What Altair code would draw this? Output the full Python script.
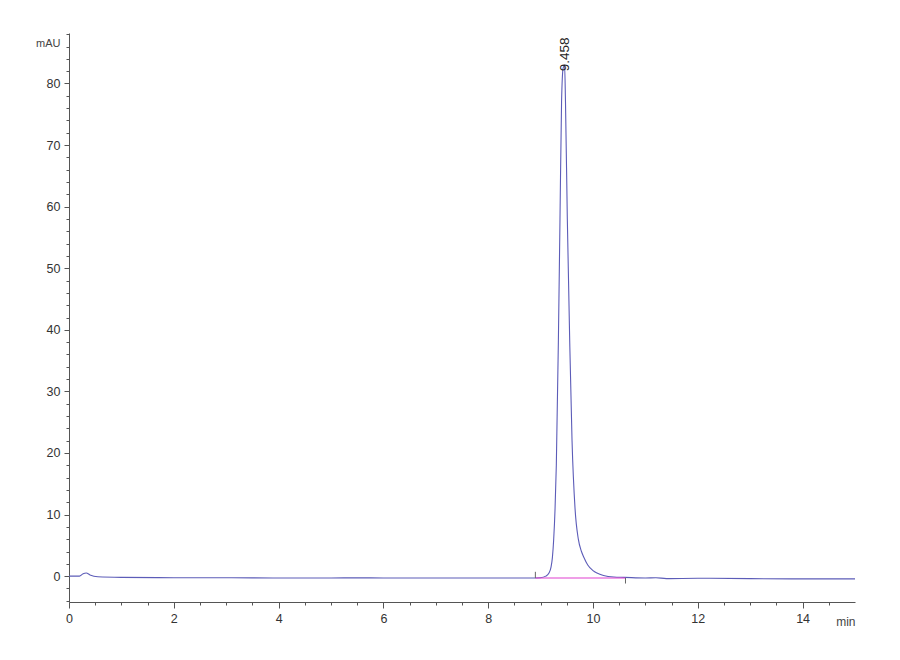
import altair as alt
import pandas as pd

# Chromatogram trace (time in min, absorbance in mAU)
times = [0.0, 0.2, 0.27, 0.33, 0.4, 0.55, 1.0, 2.0, 3.0, 4.0, 5.0, 5.5, 6.0, 7.0, 8.0,
         8.8, 9.0, 9.1, 9.16, 9.2, 9.225, 9.25, 9.276, 9.3, 9.339, 9.37, 9.40, 9.43,
         9.458, 9.475, 9.51, 9.556, 9.60, 9.657, 9.72, 9.78, 9.829, 9.9, 10.0, 10.076,
         10.2, 10.4, 10.6, 11.0, 11.2, 11.4, 12.0, 13.0, 14.0, 15.0]
mau = [0.0, 0.0, 0.4, 0.5, 0.2, -0.1, -0.2, -0.25, -0.25, -0.3, -0.3, -0.28, -0.3, -0.3, -0.3,
       -0.3, -0.25, 0.0, 0.5, 1.5, 3.0, 6.0, 11.0, 18.0, 38.0, 58.0, 77.0, 82.5,
       83.0, 77.0, 58.0, 38.0, 22.0, 11.0, 6.0, 4.0, 3.0, 1.8, 0.9, 0.5,
       0.1, -0.15, -0.2, -0.3, -0.25, -0.4, -0.35, -0.4, -0.45, -0.45]

# Integration baseline
base_times = [8.9, 10.62]
base_mau = [-0.3, -0.3]

# Integration start/end marks
mark_times = [8.9, 10.62]
mark_lo = [-0.3, -1.2]
mark_hi = [0.7, -0.3]

# Peak label
peak_time = [9.458]
peak_mau = [82.0]
peak_text = ["9.458"]

y_ticks = list(range(-4, 89, 2))
x_ticks = [i * 0.5 for i in range(0, 30)]

trace = pd.DataFrame({"t": times, "v": mau})
base = pd.DataFrame({"t": base_times, "v": base_mau})
marks = pd.DataFrame({"t": mark_times, "lo": mark_lo, "hi": mark_hi})
peak = pd.DataFrame({"t": peak_time, "v": peak_mau, "label": peak_text})

FONT = "Liberation Sans"
xscale = alt.Scale(domain=[0, 15], nice=False, zero=False)
yscale = alt.Scale(domain=[-4.2, 88.2], nice=False, zero=False)

xaxis = alt.Axis(
    values=x_ticks, tickCount=200,
    labelExpr="datum.value % 2 == 0 ? '' + datum.value : ''",
    tickSize={"condition": {"test": "datum.value % 2 == 0", "value": 6}, "value": 3},
    grid=False, title="min", titleAngle=0, titleAlign="right", titleBaseline="middle",
    titleX=786, titleY=19, titleFont=FONT, titleFontSize=12, titleFontWeight="normal",
    titleColor="#444", labelFont=FONT, labelFontSize=12.5, labelColor="#333",
    labelPadding=4, domainColor="#555", tickColor="#555", labelFlush=False,
    labelOverlap=False,
)
yaxis = alt.Axis(
    values=y_ticks, tickCount=200,
    labelExpr="datum.value % 10 == 0 ? '' + datum.value : ''",
    tickSize={"condition": {"test": "datum.value % 10 == 0", "value": 5}, "value": 3},
    grid=False, title="mAU", titleAngle=0, titleAlign="right", titleBaseline="middle",
    titleX=-9, titleY=10, titleFont=FONT, titleFontSize=11, titleFontWeight="normal",
    titleColor="#444", labelFont=FONT, labelFontSize=12.5, labelColor="#333",
    labelPadding=4, domainColor="#555", tickColor="#555", labelOverlap=False,
)

line = alt.Chart(trace).mark_line(
    color="#5c5cb8", strokeWidth=1.1, interpolate="monotone"
).encode(
    x=alt.X("t:Q", scale=xscale, axis=xaxis),
    y=alt.Y("v:Q", scale=yscale, axis=yaxis),
)

baseline = alt.Chart(base).mark_line(color="#e040d0", strokeWidth=1.1).encode(
    x=alt.X("t:Q", scale=xscale), y=alt.Y("v:Q", scale=yscale)
)

ticks = alt.Chart(marks).mark_rule(color="#666", strokeWidth=1).encode(
    x=alt.X("t:Q", scale=xscale), y=alt.Y("lo:Q", scale=yscale), y2="hi:Q"
)

label = alt.Chart(peak).mark_text(
    angle=270, align="left", baseline="middle", font=FONT, fontSize=13.5, color="#222"
).encode(x=alt.X("t:Q", scale=xscale), y=alt.Y("v:Q", scale=yscale), text="label:N")

chart = alt.layer(line, baseline, ticks, label).properties(
    width=786, height=569,
    autosize=alt.AutoSizeParams(type="none"),
    padding={"left": 61, "top": 25, "right": 30, "bottom": 40},
    background="white",
).configure_view(stroke=None)

chart.save("out.html", embed_options={"renderer": "svg", "actions": False})
